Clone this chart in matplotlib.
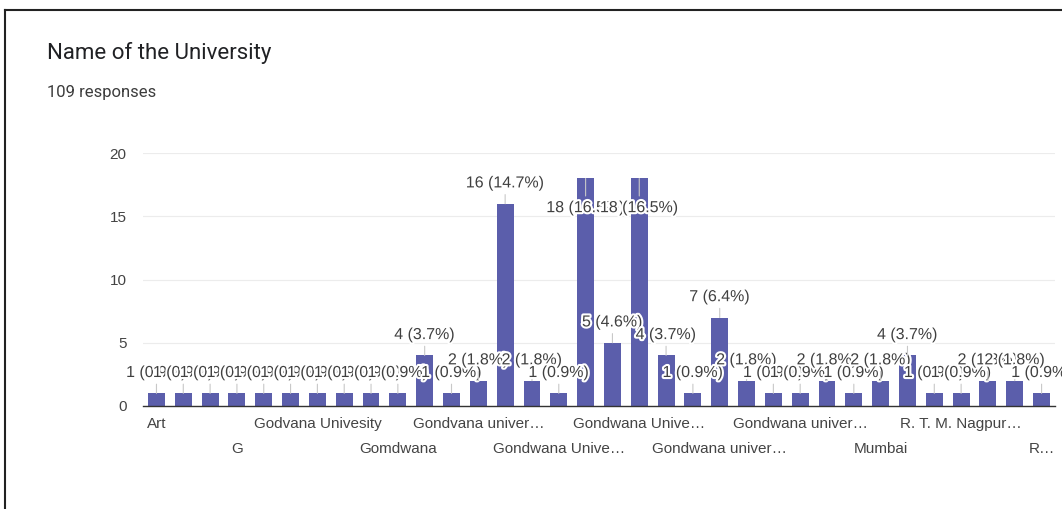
import matplotlib
matplotlib.use('Agg')
import matplotlib.pyplot as plt
import matplotlib.patheffects as pe
from matplotlib.lines import Line2D

plt.rcParams['font.family'] = ['Liberation Sans', 'DejaVu Sans']

title = 'Name of the University'
subtitle = '109 responses'
total = 109

# one count per answer (in the order shown by Google Forms)
counts = [1, 1, 1, 1, 1, 1, 1, 1, 1, 1,
          4, 1, 2, 16, 2, 1, 18, 5, 18, 4,
          1, 7, 2, 1, 1, 2, 1, 2, 4, 1,
          1, 2, 2, 1]

# only every third answer gets a visible label
tick_labels = ['Art', 'G', 'Godvana Univesity', 'Gomdwana',
               'Gondvana univer\u2026', 'Gondwana Unive\u2026',
               'Gondwana Unive\u2026', 'Gondwana univer\u2026',
               'Gondwana univer\u2026', 'Mumbai',
               'R. T. M. Nagpur\u2026', 'R\u2026']

bar_color = '#5b5eab'
text_color = '#404040'

fig = plt.figure(figsize=(10.62, 5.09), dpi=100)
ax = fig.add_axes([0.1347, 0.2024, 0.8587, 0.4966])

x = list(range(len(counts)))
ax.bar(x, counts, width=0.63, color=bar_color, zorder=2)
ax.set_xlim(-0.5, len(counts) - 0.5)
ax.set_ylim(0, 20)
ax.set_yticks([0, 5, 10, 15, 20])
ax.tick_params(axis='y', length=0, pad=12, labelsize=11, labelcolor='#444444')
ax.grid(axis='y', color='#ececec', linewidth=0.8, zorder=0)

for s in ['top', 'right', 'left']:
    ax.spines[s].set_visible(False)
ax.spines['bottom'].set_color('#333333')
ax.spines['bottom'].set_linewidth(1.0)
ax.spines['bottom'].set_zorder(3)

# two staggered rows of category labels
pos = list(range(0, len(counts), 3))
ax.set_xticks(pos[0::2])
ax.set_xticklabels(tick_labels[0::2])
ax.set_xticks(pos[1::2], minor=True)
ax.set_xticklabels(tick_labels[1::2], minor=True)
ax.tick_params(axis='x', which='major', length=0, pad=8, labelsize=11,
               labelcolor='#444444')
ax.tick_params(axis='x', which='minor', length=0, pad=26, labelsize=11,
               labelcolor='#444444')

halo = [pe.withStroke(linewidth=3, foreground='white')]
top = max(counts)
for i, v in enumerate(counts):
    dy = -21 if v == top else 15
    ax.annotate('%d (%.1f%%)' % (v, 100.0 * v / total), xy=(i, v),
                xytext=(0, dy), textcoords='offset points',
                ha='center', va='center', fontsize=11.5, color=text_color,
                path_effects=halo, zorder=5,
                arrowprops=dict(arrowstyle='-', color='#c8c8c8', lw=0.8,
                                shrinkA=1, shrinkB=0))

fig.text(47 / 1062, 1 - 53 / 509, title, fontsize=16, color='#202124',
         va='center', ha='left', family=['Roboto', 'DejaVu Sans'])
fig.text(47 / 1062, 1 - 93 / 509, subtitle, fontsize=12, color='#3c3c3c',
         va='center', ha='left', family=['Roboto', 'DejaVu Sans'])

# frame of the screenshot
fig.add_artist(Line2D([5 / 1062, 1], [1 - 10 / 509, 1 - 10 / 509],
                      transform=fig.transFigure, color='#222222', lw=1.5))
fig.add_artist(Line2D([5 / 1062, 5 / 1062], [0, 1 - 10 / 509],
                      transform=fig.transFigure, color='#222222', lw=1.5))

fig.savefig('out.png', dpi=100)
